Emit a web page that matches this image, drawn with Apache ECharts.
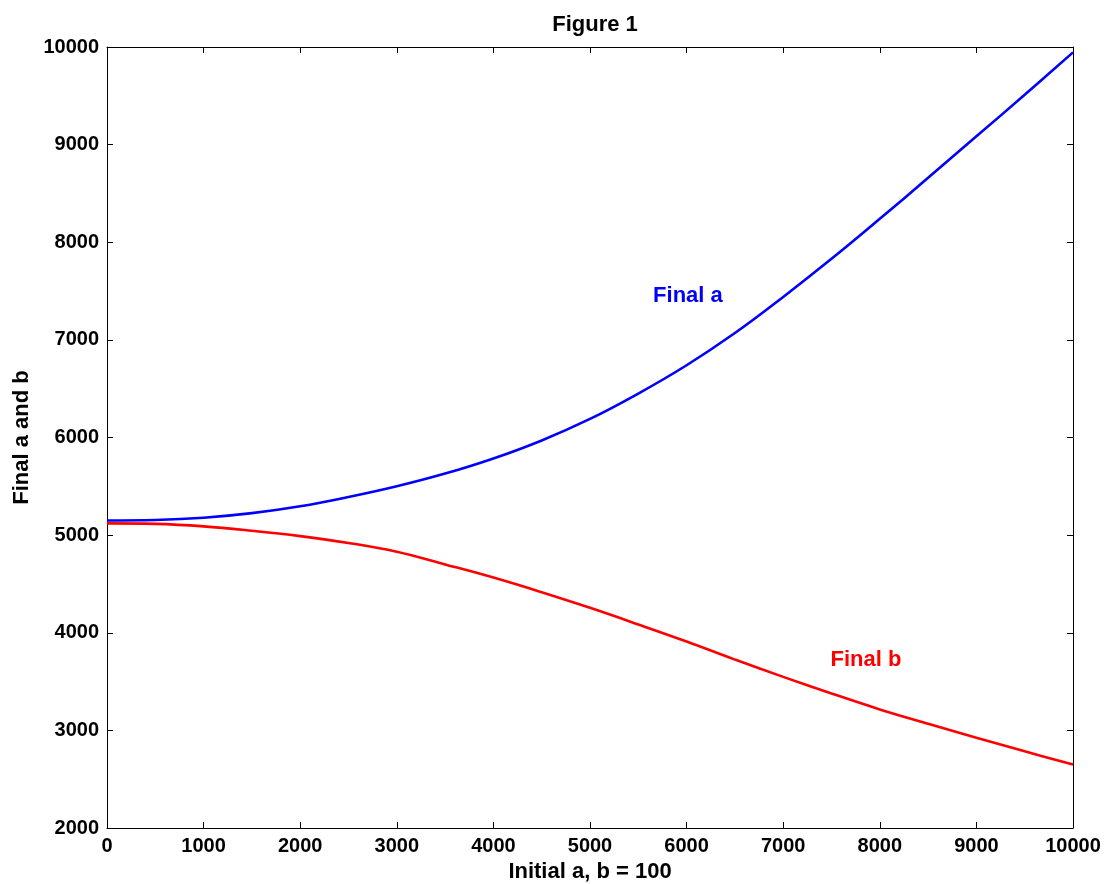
<!DOCTYPE html>
<html>
<head>
<meta charset="utf-8">
<script src="https://cdn.jsdelivr.net/npm/echarts@6/dist/echarts.min.js"></script>
<style>
html,body{margin:0;padding:0;background:#fff;}
#chart{width:1107px;height:884px;}
</style>
</head>
<body>
<div id="chart"></div>
<script>
// Data
var initialValues = [0, 500, 1000, 1500, 2000, 2500, 3000, 3500, 4000, 4500, 5000,
                     5500, 6000, 6500, 7000, 7500, 8000, 8500, 9000, 9500, 10000];
var finalA = [5150, 5155, 5178, 5225, 5295, 5390, 5500, 5630, 5785, 5970, 6190,
              6450, 6740, 7070, 7440, 7830, 8240, 8660, 9085, 9510, 9945];
var finalB = [5120, 5115, 5090, 5045, 4990, 4920, 4830, 4700, 4565, 4415, 4255,
              4085, 3910, 3725, 3548, 3378, 3215, 3068, 2925, 2785, 2650];
var xTicks = [0, 1000, 2000, 3000, 4000, 5000, 6000, 7000, 8000, 9000, 10000];
var yTicks = [2000, 3000, 4000, 5000, 6000, 7000, 8000, 9000, 10000];
var labelA = {text: 'Final a', x: 6014, y: 7450};
var labelB = {text: 'Final b', x: 7857, y: 3720};

var FONT = 'Arial, "Liberation Sans", Helvetica, sans-serif';

function pairs(xs, ys) {
  return xs.map(function (x, i) { return [x, ys[i]]; });
}

var chart = echarts.init(document.getElementById('chart'), null, {renderer: 'canvas'});

function axisBase(show) {
  return {
    axisLine: {show: true, onZero: false, lineStyle: {color: '#000', width: 1}},
    axisTick: {show: true, inside: true, length: 6, lineStyle: {color: '#000', width: 1}},
    splitLine: {show: false},
    axisLabel: show ? {show: true, color: '#000', fontSize: 20, fontWeight: 'bold', fontFamily: FONT,
      margin: 8, formatter: function (v) { return String(v); }} : {show: false}
  };
}

var xMin = xTicks[0], xMax = xTicks[xTicks.length - 1];
var yMin = yTicks[0], yMax = yTicks[yTicks.length - 1];
var xInt = xTicks[1] - xTicks[0], yInt = yTicks[1] - yTicks[0];

var option = {
  animation: false,
  backgroundColor: '#fff',
  title: {
    text: 'Figure 1',
    left: 590, top: 9, textAlign: 'center',
    textStyle: {color: '#000', fontSize: 22, fontWeight: 'bold', fontFamily: FONT}
  },
  grid: {left: 107, right: 34, top: 47, bottom: 56, containLabel: false, outerBoundsMode: 'none'},
  xAxis: [
    Object.assign(axisBase(true), {
      type: 'value', position: 'bottom', min: xMin, max: xMax, interval: xInt,
      name: 'Initial a, b = 100', nameLocation: 'middle', nameGap: 33,
      nameTextStyle: {color: '#000', fontSize: 22, fontWeight: 'bold', fontFamily: FONT}
    }),
    Object.assign(axisBase(false), {
      type: 'value', position: 'top', min: xMin, max: xMax, interval: xInt
    })
  ],
  yAxis: [
    Object.assign(axisBase(true), {
      type: 'value', position: 'left', min: yMin, max: yMax, interval: yInt,
      name: 'Final a and b', nameLocation: 'middle', nameGap: 74,
      nameTextStyle: {color: '#000', fontSize: 22, fontWeight: 'bold', fontFamily: FONT}
    }),
    Object.assign(axisBase(false), {
      type: 'value', position: 'right', min: yMin, max: yMax, interval: yInt
    })
  ],
  series: [
    {
      name: 'Final a', type: 'line', xAxisIndex: 0, yAxisIndex: 0,
      data: pairs(initialValues, finalA),
      showSymbol: false, smooth: 0.4,
      lineStyle: {color: '#0000ff', width: 2.6},
      itemStyle: {color: '#0000ff'},
      markPoint: {
        symbol: 'circle', symbolSize: 1, silent: true,
        itemStyle: {color: 'rgba(0,0,0,0)'},
        data: [{coord: [labelA.x, labelA.y]}],
        label: {show: true, position: 'inside', formatter: labelA.text,
          color: '#0000ff', fontSize: 22, fontWeight: 'bold', fontFamily: FONT}
      }
    },
    {
      name: 'Final b', type: 'line', xAxisIndex: 0, yAxisIndex: 0,
      data: pairs(initialValues, finalB),
      showSymbol: false, smooth: 0.4,
      lineStyle: {color: '#ff0000', width: 2.6},
      itemStyle: {color: '#ff0000'},
      markPoint: {
        symbol: 'circle', symbolSize: 1, silent: true,
        itemStyle: {color: 'rgba(0,0,0,0)'},
        data: [{coord: [labelB.x, labelB.y]}],
        label: {show: true, position: 'inside', formatter: labelB.text,
          color: '#ff0000', fontSize: 22, fontWeight: 'bold', fontFamily: FONT}
      }
    }
  ]
};
chart.setOption(option);
</script>
</body>
</html>
